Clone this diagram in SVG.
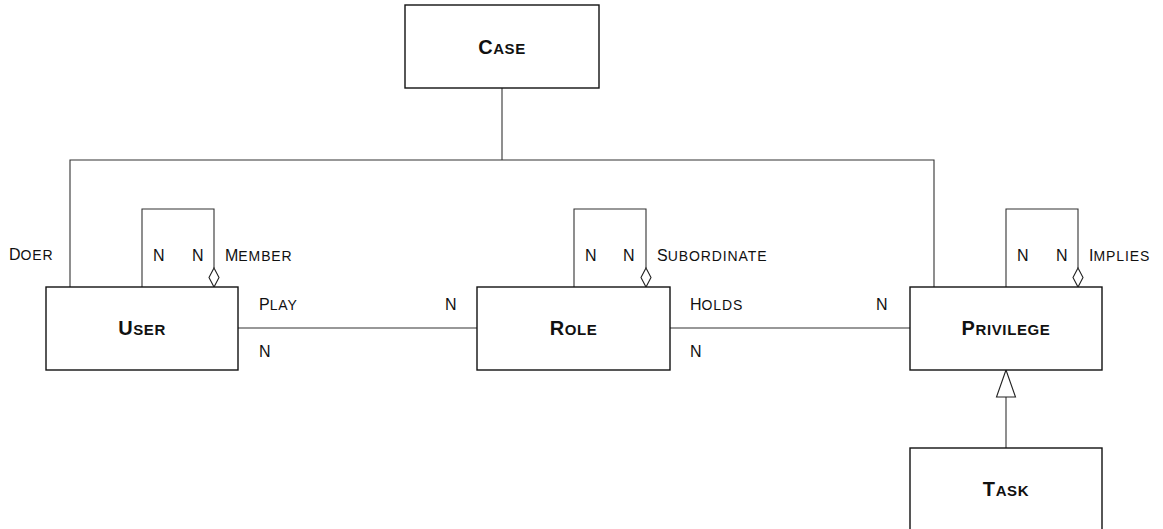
<svg xmlns="http://www.w3.org/2000/svg" width="1163" height="529" viewBox="0 0 1163 529">
<style>
.box{fill:#fff;stroke:#111;stroke-width:1.4}
.ln{fill:none;stroke:#333;stroke-width:1.1}
.dia{fill:#fff;stroke:#222;stroke-width:1.1}
.tri{fill:#fff;stroke:#222;stroke-width:1.1}
.t{font-family:"Liberation Sans",Arial,sans-serif;fill:#111}
.b{font-weight:bold;text-anchor:middle;font-size:20px;letter-spacing:0.6px}
.b .s{font-size:15px}
.r{font-size:16px}
.r .s{font-size:14px;letter-spacing:0.9px}
</style>
<g id="connectors">
  <polyline class="ln" points="70,287 70,160 934,160 934,287"/>
  <line class="ln" x1="502" y1="88" x2="502" y2="160"/>
  <polyline class="ln" points="142,287 142,209 214,209 214,268"/>
  <polygon class="dia" points="214,268 219,277.5 214,287 209,277.5"/>
  <polyline class="ln" points="574,287 574,209 646,209 646,268"/>
  <polygon class="dia" points="646,268 651,277.5 646,287 641,277.5"/>
  <polyline class="ln" points="1006,287 1006,209 1078,209 1078,268"/>
  <polygon class="dia" points="1078,268 1083,277.5 1078,287 1073,277.5"/>
  <line class="ln" x1="238" y1="328" x2="477" y2="328"/>
  <line class="ln" x1="670" y1="328" x2="910" y2="328"/>
  <line class="ln" x1="1006" y1="397" x2="1006" y2="448"/>
  <polygon class="tri" points="1006,370 1015.5,397 996.5,397"/>
</g>
<g id="labels" class="t r">
  <text x="9" y="260">D<tspan class="s">OER</tspan></text>
  <text x="153" y="261">N</text>
  <text x="192" y="261">N</text>
  <text x="225" y="261">M<tspan class="s">EMBER</tspan></text>
  <text x="259" y="310">P<tspan class="s">LAY</tspan></text>
  <text x="259" y="357">N</text>
  <text x="445" y="310">N</text>
  <text x="585" y="261">N</text>
  <text x="623" y="261">N</text>
  <text x="657" y="261">S<tspan class="s">UBORDINATE</tspan></text>
  <text x="690" y="310">H<tspan class="s">OLDS</tspan></text>
  <text x="690" y="357">N</text>
  <text x="876" y="310">N</text>
  <text x="1017" y="261">N</text>
  <text x="1056" y="261">N</text>
  <text x="1089" y="261">I<tspan class="s">MPLIES</tspan></text>
</g>
<g id="case">
  <rect class="box" x="405" y="5" width="194" height="83"/>
  <text class="t b" x="502" y="54">C<tspan class="s">ASE</tspan></text>
</g>
<g id="user">
  <rect class="box" x="46" y="287" width="192" height="83"/>
  <text class="t b" x="142" y="335">U<tspan class="s">SER</tspan></text>
</g>
<g id="role">
  <rect class="box" x="477" y="287" width="193" height="83"/>
  <text class="t b" x="573.5" y="335">R<tspan class="s">OLE</tspan></text>
</g>
<g id="privilege">
  <rect class="box" x="910" y="287" width="192" height="83"/>
  <text class="t b" x="1006" y="335">P<tspan class="s">RIVILEGE</tspan></text>
</g>
<g id="task">
  <rect class="box" x="910" y="448" width="192" height="84"/>
  <text class="t b" x="1006" y="496">T<tspan class="s">ASK</tspan></text>
</g>
</svg>
